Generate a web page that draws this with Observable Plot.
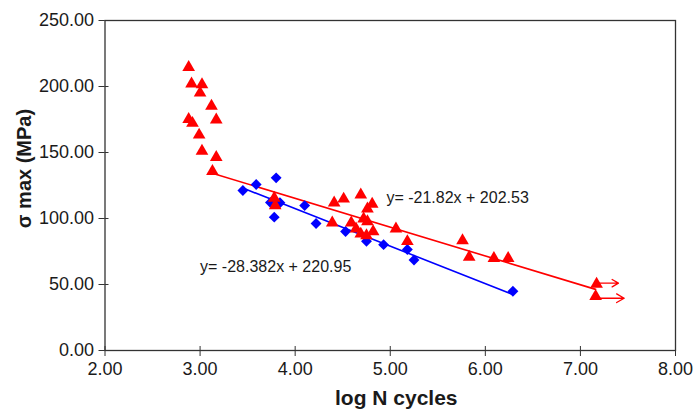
<!DOCTYPE html>
<html>
<head>
<meta charset="utf-8">
<script src="https://cdn.jsdelivr.net/npm/d3@7"></script>
<script src="https://cdn.jsdelivr.net/npm/@observablehq/plot@0.6"></script>
<style>
  html, body { margin: 0; padding: 0; background: white; }
</style>
</head>
<body>
<div id="chart"></div>
<script>
// Red triangles (series 1)
const redX = [2.88, 2.91, 3.02, 3.00, 3.12, 2.88, 2.92, 3.17, 2.99, 3.02, 3.17, 3.13,
              3.78, 3.79, 4.41, 4.51, 4.69, 4.81, 4.76, 4.39, 4.59, 4.72, 4.76, 4.64,
              4.82, 4.69, 4.75, 5.06, 5.18, 5.76, 5.83, 6.09, 6.24, 7.17, 7.16];
const redY = [214.6, 202.0, 201.5, 195.1, 185.1, 175.2, 172.2, 174.7, 163.3, 151.0, 146.4, 135.8,
              115.4, 109.8, 111.8, 114.8, 117.9, 111.0, 107.3, 96.7, 96.7, 99.7, 97.7, 92.1,
              90.1, 88.3, 87.1, 92.1, 82.6, 83.3, 70.7, 69.9, 69.9, 50.4, 41.1];
// Blue diamonds (series 2)
const blueX = [3.45, 3.59, 3.80, 3.74, 3.84, 3.78, 4.10, 4.22, 4.53, 4.75, 4.93, 5.18, 5.25, 6.29];
const blueY = [121.2, 125.8, 130.8, 112.1, 111.9, 101.0, 109.8, 96.2, 90.2, 82.8, 80.2, 76.5, 68.6, 44.9];

// Trend lines (from the equations shown on the chart)
const fitSlope = [-21.82, -28.382];
const fitIntercept = [202.53, 220.95];
const fitFrom = [3.12, 3.45];
const fitTo = [7.16, 6.29];
const fitColor = ["#ff0000", "#0000ff"];

// Equation labels
const eqText = ["y= -21.82x + 202.53", "y= -28.382x + 220.95"];
const eqX = [4.96, 3.0];
const eqY = [116, 63.5];

// Run-out arrows
const runX1 = [7.17, 7.17];
const runX2 = [7.40, 7.46];
const runY = [51.0, 39.6];

const xTicks = [2, 3, 4, 5, 6, 7, 8];
const yTicks = [0, 50, 100, 150, 200, 250];
const xTitle = "log N cycles";
const yTitle = "σ max (MPa)";

const red = redX.map((x, i) => ({x, y: redY[i]}));
const blue = blueX.map((x, i) => ({x, y: blueY[i]}));
const fits = [];
fitSlope.forEach((m, i) => {
  [fitFrom[i], fitTo[i]].forEach(x => fits.push({s: i, x, y: m * x + fitIntercept[i], c: fitColor[i]}));
});
const eqs = eqText.map((t, i) => ({t, x: eqX[i], y: eqY[i]}));
const runs = runY.map((y, i) => ({x1: runX1[i], x2: runX2[i], y}));
const fmt = d3.format(".2f");

const chart = Plot.plot({
  width: 695,
  height: 412,
  marginLeft: 104.5,
  marginRight: 20,
  marginTop: 20,
  marginBottom: 62,
  x: {domain: [2, 8]},
  y: {domain: [0, 250]},
  style: {fontFamily: "'Liberation Sans', Arial, Helvetica, sans-serif", fontSize: "18px", color: "#1a1a1a", background: "white"},
  marks: [
    Plot.frame({stroke: "#333", strokeWidth: 1.3}),
    Plot.axisY({ticks: yTicks, tickFormat: fmt, tickSize: 6, tickPadding: 5, label: null, stroke: "#333"}),
    Plot.axisY({ticks: yTicks, tickSize: -4, text: null, label: null, stroke: "#333"}),
    Plot.axisX({ticks: xTicks, tickFormat: fmt, tickSize: 6, tickPadding: 6, label: null, stroke: "#333"}),
    Plot.axisX({ticks: xTicks, tickSize: -4, text: null, label: null, stroke: "#333"}),
    Plot.line(fits, {x: "x", y: "y", z: "s", stroke: "c", strokeWidth: 1.6}),
    Plot.arrow(runs, {x1: "x1", x2: "x2", y1: "y", y2: "y", stroke: "#ff0000", strokeWidth: 1.3, headLength: 10, headAngle: 60}),
    Plot.dot(blue, {x: "x", y: "y", symbol: "diamond2", r: 4.9, fill: "#0000ff"}),
    Plot.dot(red, {x: "x", y: "y", symbol: "triangle", r: 4.7, fill: "#ff0000"}),
    Plot.text(eqs, {x: "x", y: "y", text: "t", textAnchor: "start", fontSize: 16, fill: "#1a1a1a"}),
    Plot.text([xTitle], {frameAnchor: "bottom", text: d => d, dy: 48, dx: 6, lineAnchor: "middle", textAnchor: "middle", fontSize: 21, fontWeight: "bold", fill: "#1a1a1a"}),
    Plot.text([yTitle], {frameAnchor: "left", text: d => d, rotate: -90, dx: -80, dy: -17, lineAnchor: "middle", textAnchor: "middle", fontSize: 20, fontWeight: "bold", fill: "#1a1a1a"})
  ]
});
document.getElementById("chart").appendChild(chart);
</script>
</body>
</html>
